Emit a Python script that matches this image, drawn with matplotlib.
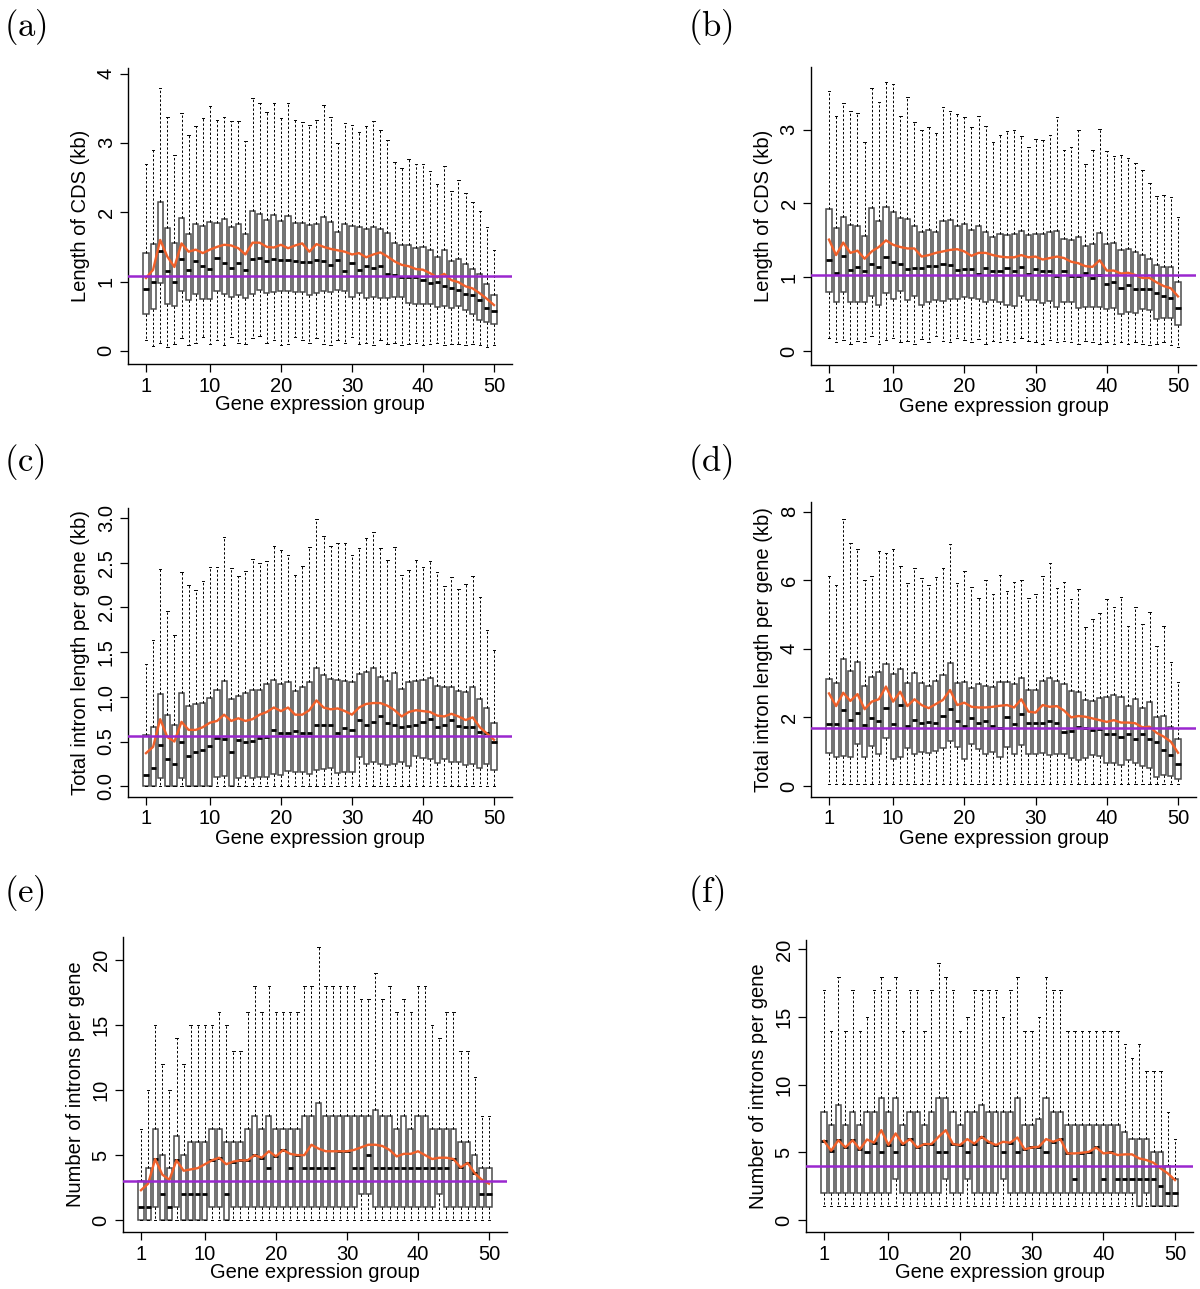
import matplotlib
matplotlib.use('Agg')
import matplotlib.pyplot as plt
import numpy as np

plt.rcParams['font.family'] = ['Liberation Sans', 'DejaVu Sans']
plt.rcParams['mathtext.fontset'] = 'cm'

groups = np.arange(1, 51)
xticks = [1, 10, 20, 30, 40, 50]

# (a) CDS length, kb
a_lo = [0.15, 0.07, 0.12, 0.05, 0.10, 0.18, 0.08, 0.12, 0.20, 0.10, 0.15, 0.08, 0.20, 0.12, 0.10, 0.18, 0.22, 0.12, 0.15, 0.08,
        0.10, 0.20, 0.15, 0.12, 0.18, 0.10, 0.08, 0.15, 0.12, 0.20, 0.10, 0.12, 0.08, 0.15, 0.10, 0.12, 0.08, 0.10, 0.12, 0.08,
        0.10, 0.12, 0.08, 0.10, 0.10, 0.08, 0.10, 0.08, 0.06, 0.08]
a_q1 = [0.53, 0.60, 0.98, 0.67, 0.65, 0.86, 0.74, 0.82, 0.75, 0.75, 0.87, 0.82, 0.78, 0.81, 0.76, 0.82, 0.88, 0.83, 0.85, 0.86,
        0.87, 0.85, 0.85, 0.81, 0.83, 0.86, 0.85, 0.88, 0.87, 0.78, 0.83, 0.76, 0.77, 0.76, 0.76, 0.77, 0.77, 0.69, 0.67, 0.68,
        0.67, 0.63, 0.64, 0.62, 0.64, 0.59, 0.53, 0.45, 0.42, 0.39]
a_med = [0.89, 1.00, 1.44, 1.15, 1.00, 1.32, 1.16, 1.29, 1.22, 1.18, 1.34, 1.26, 1.19, 1.27, 1.16, 1.32, 1.34, 1.30, 1.32, 1.31,
         1.31, 1.30, 1.28, 1.28, 1.31, 1.30, 1.24, 1.31, 1.15, 1.27, 1.16, 1.22, 1.19, 1.23, 1.11, 1.10, 1.06, 1.07, 1.07, 1.02,
         0.98, 1.00, 0.93, 0.90, 0.88, 0.82, 0.80, 0.74, 0.62, 0.57]
a_q3 = [1.41, 1.54, 2.15, 1.77, 1.55, 1.91, 1.69, 1.83, 1.80, 1.86, 1.84, 1.90, 1.79, 1.83, 1.68, 2.01, 1.97, 1.89, 1.96, 1.87,
        1.94, 1.85, 1.84, 1.81, 1.83, 1.93, 1.86, 1.72, 1.83, 1.80, 1.79, 1.76, 1.78, 1.76, 1.70, 1.55, 1.52, 1.53, 1.49, 1.50,
        1.45, 1.35, 1.45, 1.30, 1.32, 1.25, 1.18, 1.11, 0.96, 0.81]
a_hi = [2.70, 2.90, 3.79, 3.37, 2.83, 3.43, 3.12, 3.24, 3.36, 3.53, 3.33, 3.37, 3.31, 3.32, 3.02, 3.65, 3.57, 3.44, 3.58, 3.36,
        3.58, 3.33, 3.30, 3.26, 3.33, 3.54, 3.37, 3.00, 3.28, 3.26, 3.16, 3.25, 3.32, 3.19, 3.04, 2.73, 2.64, 2.77, 2.70, 2.70,
        2.60, 2.40, 2.67, 2.31, 2.46, 2.27, 2.15, 2.01, 1.78, 1.45]
a_mean = [1.05, 1.17, 1.60, 1.36, 1.21, 1.55, 1.43, 1.46, 1.41, 1.46, 1.50, 1.53, 1.52, 1.48, 1.39, 1.56, 1.56, 1.50, 1.49, 1.53,
          1.48, 1.52, 1.55, 1.43, 1.54, 1.50, 1.47, 1.45, 1.43, 1.39, 1.41, 1.35, 1.39, 1.42, 1.36, 1.29, 1.24, 1.22, 1.18, 1.17,
          1.12, 1.06, 1.11, 1.02, 0.99, 0.93, 0.90, 0.83, 0.75, 0.66]
a_ref = 1.08

# (b) CDS length, kb
b_lo = [0.18, 0.12, 0.15, 0.10, 0.14, 0.12, 0.20, 0.10, 0.15, 0.18, 0.12, 0.14, 0.10, 0.16, 0.12, 0.20, 0.14, 0.12, 0.18, 0.15,
        0.12, 0.16, 0.10, 0.14, 0.12, 0.15, 0.12, 0.18, 0.14, 0.12, 0.10, 0.15, 0.12, 0.14, 0.12, 0.10, 0.14, 0.12, 0.10, 0.12,
        0.10, 0.12, 0.10, 0.12, 0.10, 0.08, 0.10, 0.12, 0.08, 0.06]
b_q1 = [0.80, 0.67, 0.80, 0.66, 0.67, 0.67, 0.74, 0.63, 0.78, 0.70, 0.81, 0.69, 0.74, 0.63, 0.67, 0.69, 0.68, 0.70, 0.70, 0.73,
        0.72, 0.70, 0.66, 0.69, 0.67, 0.62, 0.61, 0.74, 0.69, 0.69, 0.65, 0.68, 0.60, 0.66, 0.67, 0.58, 0.60, 0.60, 0.60, 0.57,
        0.58, 0.50, 0.53, 0.52, 0.57, 0.55, 0.44, 0.45, 0.45, 0.35]
b_med = [1.23, 1.06, 1.29, 1.10, 1.14, 1.09, 1.18, 1.14, 1.28, 1.21, 1.18, 1.11, 1.13, 1.12, 1.15, 1.15, 1.18, 1.17, 1.10, 1.11,
         1.11, 1.05, 1.12, 1.09, 1.08, 1.12, 1.09, 1.14, 1.05, 1.11, 1.08, 1.09, 1.02, 1.09, 1.01, 1.02, 1.06, 0.99, 1.03, 0.91,
         0.94, 0.86, 0.89, 0.84, 0.84, 0.84, 0.78, 0.74, 0.72, 0.58]
b_q3 = [1.92, 1.67, 1.82, 1.71, 1.70, 1.56, 1.94, 1.76, 1.95, 1.88, 1.80, 1.79, 1.69, 1.61, 1.64, 1.61, 1.76, 1.77, 1.70, 1.72,
        1.64, 1.70, 1.61, 1.55, 1.59, 1.57, 1.59, 1.63, 1.57, 1.58, 1.59, 1.61, 1.63, 1.52, 1.51, 1.54, 1.42, 1.45, 1.60, 1.45,
        1.46, 1.37, 1.38, 1.34, 1.30, 1.25, 1.16, 1.14, 1.14, 0.94]
b_hi = [3.53, 3.18, 3.36, 3.26, 3.22, 2.83, 3.56, 3.37, 3.65, 3.62, 3.18, 3.44, 3.10, 3.00, 3.03, 2.95, 3.31, 3.26, 3.21, 3.17,
        3.04, 3.18, 3.05, 2.84, 2.93, 2.98, 3.00, 2.92, 2.76, 2.87, 2.86, 2.93, 3.17, 2.73, 2.76, 3.00, 2.53, 2.73, 3.01, 2.71,
        2.65, 2.66, 2.61, 2.55, 2.46, 2.28, 2.10, 2.12, 2.09, 1.81]
b_mean = [1.51, 1.30, 1.47, 1.33, 1.36, 1.25, 1.35, 1.41, 1.50, 1.44, 1.41, 1.39, 1.39, 1.28, 1.30, 1.33, 1.35, 1.37, 1.38, 1.35,
          1.29, 1.33, 1.33, 1.30, 1.28, 1.27, 1.27, 1.30, 1.27, 1.28, 1.24, 1.26, 1.28, 1.26, 1.21, 1.19, 1.15, 1.14, 1.23, 1.09,
          1.09, 1.05, 1.06, 1.03, 0.99, 0.99, 0.93, 0.88, 0.85, 0.74]
b_ref = 1.03

# (c) total intron length per gene, kb
c_lo = [0.0] * 50
c_q1 = [0, 0, 0.09, 0, 0, 0.09, 0, 0, 0, 0, 0.10, 0.12, 0, 0.09, 0.12, 0.09, 0.10, 0.10, 0.14, 0.13,
        0.17, 0.16, 0.16, 0.14, 0.18, 0.19, 0.20, 0.15, 0.16, 0.16, 0.33, 0.25, 0.27, 0.25, 0.24, 0.25, 0.27, 0.23, 0.34, 0.32,
        0.30, 0.26, 0.31, 0.27, 0.27, 0.24, 0.25, 0.20, 0.25, 0.18]
c_med = [0.13, 0.20, 0.46, 0.30, 0.25, 0.50, 0.34, 0.38, 0.40, 0.45, 0.54, 0.53, 0.38, 0.52, 0.49, 0.51, 0.54, 0.55, 0.63, 0.60,
         0.60, 0.62, 0.59, 0.59, 0.68, 0.69, 0.68, 0.60, 0.65, 0.63, 0.74, 0.68, 0.72, 0.78, 0.71, 0.68, 0.66, 0.67, 0.68, 0.72,
         0.75, 0.66, 0.69, 0.74, 0.67, 0.66, 0.66, 0.61, 0.60, 0.49]
c_q3 = [0.57, 0.66, 1.03, 0.80, 0.68, 1.04, 0.90, 0.92, 0.93, 0.99, 1.08, 1.18, 0.98, 1.01, 1.04, 1.08, 1.08, 1.14, 1.19, 1.14,
        1.17, 1.06, 1.11, 1.17, 1.32, 1.24, 1.20, 1.19, 1.18, 1.16, 1.26, 1.28, 1.32, 1.22, 1.18, 1.27, 1.09, 1.16, 1.18, 1.19,
        1.21, 1.12, 1.11, 1.11, 1.06, 1.05, 1.11, 0.97, 0.87, 0.71]
c_hi = [1.37, 1.63, 2.43, 1.96, 1.69, 2.39, 2.25, 2.19, 2.29, 2.45, 2.45, 2.79, 2.44, 2.35, 2.41, 2.54, 2.49, 2.52, 2.68, 2.64,
        2.58, 2.36, 2.46, 2.67, 2.99, 2.80, 2.68, 2.72, 2.72, 2.59, 2.66, 2.78, 2.84, 2.66, 2.53, 2.67, 2.36, 2.42, 2.53, 2.45,
        2.52, 2.39, 2.24, 2.34, 2.20, 2.26, 2.35, 2.11, 1.75, 1.52]
c_mean = [0.37, 0.44, 0.75, 0.55, 0.50, 0.72, 0.63, 0.63, 0.66, 0.71, 0.73, 0.80, 0.73, 0.76, 0.73, 0.75, 0.80, 0.83, 0.88, 0.84,
          0.88, 0.80, 0.80, 0.85, 0.96, 0.88, 0.86, 0.87, 0.84, 0.80, 0.88, 0.92, 0.93, 0.93, 0.90, 0.85, 0.78, 0.83, 0.85, 0.84,
          0.83, 0.79, 0.78, 0.81, 0.78, 0.74, 0.77, 0.66, 0.59, 0.52]
c_ref = 0.56

# (d) total intron length per gene, kb
d_lo = [0.05] * 50
d_q1 = [0.95, 0.85, 0.87, 0.85, 1.22, 0.84, 1.17, 0.92, 1.39, 0.78, 0.85, 1.10, 0.93, 0.98, 0.95, 1.02, 1.10, 1.32, 1.15, 0.79,
        1.22, 1.07, 0.93, 1.00, 0.85, 1.15, 0.93, 1.20, 0.93, 0.93, 0.97, 0.90, 0.92, 0.92, 0.81, 0.76, 0.81, 0.90, 0.87, 0.66,
        0.68, 0.61, 0.76, 0.66, 0.59, 0.52, 0.27, 0.32, 0.30, 0.20]
d_med = [1.81, 1.81, 2.22, 1.92, 2.14, 1.78, 1.97, 1.90, 2.27, 1.81, 2.36, 1.76, 1.92, 1.83, 1.86, 1.83, 2.04, 2.24, 1.90, 1.75,
         1.99, 1.85, 1.90, 1.76, 1.70, 2.00, 1.81, 2.09, 1.83, 1.83, 1.85, 1.90, 1.85, 1.58, 1.60, 1.73, 1.70, 1.63, 1.65, 1.51,
         1.52, 1.42, 1.51, 1.37, 1.51, 1.36, 1.27, 1.05, 0.90, 0.63]
d_q3 = [3.11, 2.99, 3.69, 3.35, 3.62, 2.92, 3.17, 3.31, 3.55, 3.26, 3.41, 2.99, 3.30, 2.99, 2.92, 3.06, 3.24, 3.59, 2.99, 3.04,
        2.85, 2.96, 2.92, 2.90, 3.04, 3.04, 2.96, 3.14, 2.80, 2.80, 3.06, 3.14, 3.07, 2.96, 2.77, 2.73, 2.51, 2.48, 2.57, 2.59,
        2.65, 2.59, 2.34, 2.53, 2.27, 2.46, 2.00, 2.04, 1.73, 1.36]
d_hi = [6.13, 5.86, 7.78, 7.08, 6.90, 6.01, 6.13, 6.86, 6.78, 6.90, 6.42, 5.91, 6.36, 6.06, 5.86, 6.10, 6.35, 7.05, 5.91, 6.28,
        5.79, 5.47, 6.01, 5.61, 6.15, 5.69, 5.96, 6.01, 5.47, 5.60, 6.12, 6.49, 5.76, 5.96, 5.44, 5.73, 4.63, 4.86, 5.03, 5.44,
        5.23, 5.52, 4.66, 5.21, 4.72, 5.06, 4.08, 4.66, 3.62, 3.02]
d_mean = [2.70, 2.33, 2.72, 2.48, 2.68, 2.24, 2.46, 2.53, 2.90, 2.46, 2.75, 2.33, 2.53, 2.36, 2.27, 2.39, 2.51, 2.80, 2.36, 2.43,
          2.31, 2.29, 2.29, 2.31, 2.34, 2.36, 2.29, 2.53, 2.17, 2.14, 2.36, 2.31, 2.33, 2.20, 2.00, 2.04, 2.02, 1.97, 1.92, 1.87,
          1.92, 1.85, 1.85, 1.83, 1.71, 1.73, 1.55, 1.44, 1.29, 0.97]
d_ref = 1.68

# (e) number of introns per gene (medians hidden under the mean line read as the mean)
e_lo = [0] * 50
e_q1 = [0, 0, 1, 0, 0, 1, 0, 0, 0, 0, 1, 1, 0, 1, 1, 1, 1, 1, 1, 1, 1, 1, 1, 1, 1,
        1, 1, 1, 1, 1, 1, 2, 2, 1, 1, 1, 1, 1, 1, 1, 1, 1, 2, 1, 1, 1, 1, 1, 1, 1]
e_med = [1, 1, 4.7, 2, 1, 4.6, 2, 2, 2, 2, 4.6, 4.8, 2, 4.5, 4.6, 4.6, 5.0, 4.8, 4, 4.9, 5.4, 4, 5.0, 4, 4,
         4, 4, 4, 5.3, 5.3, 4, 4, 5, 4, 4, 4, 4, 4, 4, 4, 4, 4, 4, 4, 4.7, 4.05, 4.4, 3.6, 2, 2]
e_q3 = [3, 4, 7, 5, 4, 6.5, 5, 6, 6, 6, 7, 7, 6, 6, 6, 7, 8, 7, 8, 7, 7, 7, 7, 8, 8,
        9, 8, 8, 8, 8, 8, 8, 8, 8.5, 8, 8, 7, 8, 7, 8, 8, 7, 7, 7, 7, 6, 6, 5, 4, 4]
e_hi = [7, 10, 15, 12, 10, 14, 12, 15, 15, 15, 15, 16, 15, 13, 13, 16, 18, 16, 18, 16, 16, 16, 16, 18, 18,
        21, 18, 18, 18, 18, 18, 17, 17, 19, 17, 18, 16, 17, 16, 18, 18, 15, 14, 16, 16, 13, 13, 11, 8, 8]
e_mean = [2.3, 2.8, 4.7, 3.5, 3.1, 4.6, 3.8, 3.9, 4.0, 4.3, 4.6, 4.8, 4.3, 4.5, 4.6, 4.6, 5.0, 4.8, 5.3, 4.9,
          5.4, 5.1, 5.0, 5.0, 5.8, 5.5, 5.3, 5.3, 5.3, 5.3, 5.4, 5.6, 5.8, 5.8, 5.7, 5.4, 4.9, 5.1, 5.1, 5.3,
          5.0, 4.7, 4.8, 4.8, 4.7, 4.05, 4.4, 3.6, 3.1, 2.8]
e_ref = 3.0

# (f) number of introns per gene (medians hidden under the mean line read as the mean)
f_lo = [1] * 50
f_q1 = [2, 2, 2, 2, 2, 2, 2, 2, 2, 2, 3, 2, 2, 2, 2, 2, 2, 3, 2, 2, 3, 2, 2, 2, 2,
        3, 2, 2, 2, 2, 2, 2, 2, 2, 2, 2, 2, 2, 2, 2, 2, 2, 2, 2, 1, 2, 1, 1, 1, 1]
f_med = [5.85, 5.12, 5.90, 5.36, 5.90, 5.22, 5, 5.71, 5, 5.54, 5, 5.61, 5.98, 5.36, 5.61, 5.61, 5, 5, 5.61, 5.54,
         5, 5.64, 6.15, 5.78, 5.54, 5, 5.71, 5, 5.22, 5.36, 5.41, 5, 5.78, 5.98, 4.92, 3, 4.97, 5.04, 5.36, 3,
         4.99, 3, 3, 3, 3, 3, 3, 2.5, 2, 2]
f_q3 = [8, 7, 8.5, 7, 8, 7, 8, 8, 9, 8, 9, 7, 8, 8, 7, 8, 9, 9, 8, 7, 8, 8, 8.5, 8, 8,
        8, 8, 9, 7, 7, 7.5, 9, 8, 8, 7, 7, 7, 7, 7, 7, 7, 7, 6.5, 6, 6, 6, 5, 5, 4, 3]
f_hi = [17, 14, 18, 14, 17, 14, 15, 17, 18, 17, 18, 14, 17, 17, 14, 17, 19, 18, 17, 14, 15, 17, 17, 17, 17,
        15, 17, 18, 14, 14, 15, 18, 17, 17, 14, 14, 14, 14, 14, 14, 14, 14, 13, 12, 13, 11, 11, 11, 8, 6]
f_mean = [5.85, 5.12, 5.90, 5.36, 5.90, 5.22, 5.95, 5.71, 6.64, 5.54, 6.40, 5.61, 5.98, 5.36, 5.61, 5.61, 6.15, 6.64, 5.61, 5.54,
          5.98, 5.64, 6.15, 5.78, 5.54, 5.78, 5.71, 6.10, 5.22, 5.36, 5.41, 5.98, 5.78, 5.98, 4.92, 4.92, 4.97, 5.04, 5.36, 4.92,
          4.99, 4.80, 4.85, 4.85, 4.55, 4.43, 4.23, 3.81, 3.44, 2.95]
f_ref = 4.0

W, H = 1200, 1289
fig = plt.figure(figsize=(12, 12.89), dpi=100)


def make_axes(x1, x50, top, bottom):
    # x1 / x50: pixel positions of groups 1 and 50; axis spans -1.5 .. 52.5
    step = (x50 - x1) / 49.0
    left = x1 - 2.5 * step
    right = x50 + 2.5 * step
    return fig.add_axes([left / W, 1 - bottom / H, (right - left) / W, (bottom - top) / H])


def draw_panel(ax, lo, q1, med, q3, hi, mean, ref, ylim, yticks, yticklabels, ylabel):
    stats = [dict(whislo=w0, q1=b0, med=m, q3=b1, whishi=w1)
             for w0, b0, m, b1, w1 in zip(lo, q1, med, q3, hi)]
    ax.bxp(stats, positions=groups, widths=0.72, showfliers=False, patch_artist=True,
           boxprops=dict(facecolor='white', edgecolor='#4a4a4a', linewidth=1.1),
           whiskerprops=dict(color='black', linewidth=0.7, linestyle=(0, (2.5, 2))),
           capprops=dict(color='black', linewidth=0.7),
           medianprops=dict(color='black', linewidth=2.0, solid_capstyle='butt'),
           manage_ticks=False)
    ax.plot(groups, mean, color='#f0602a', linewidth=1.7, zorder=4)
    ax.axhline(ref, color='#9a27cf', linewidth=1.8, zorder=5)
    ax.set_xlim(-1.5, 52.5)
    ax.set_ylim(*ylim)
    ax.set_xticks(xticks)
    ax.set_yticks(yticks)
    ax.set_yticklabels(yticklabels, rotation=90, va='center')
    for s in ['top', 'right']:
        ax.spines[s].set_visible(False)
    for s in ['left', 'bottom']:
        ax.spines[s].set_linewidth(1.0)
    ax.tick_params(direction='out', length=6, width=0.9, labelsize=14.5, pad=3)
    ax.set_xlabel('Gene expression group', fontsize=14.5, labelpad=0)
    ax.set_ylabel(ylabel, fontsize=14.5, labelpad=5)


cds = 'Length of CDS (kb)'
intron_len = 'Total intron length per gene (kb)'
intron_num = 'Number of introns per gene'

ax = make_axes(146, 494, 68, 364)
draw_panel(ax, a_lo, a_q1, a_med, a_q3, a_hi, a_mean, a_ref, (-0.19, 4.08),
           [0, 1, 2, 3, 4], ['0', '1', '2', '3', '4'], cds)

ax = make_axes(829, 1178, 67, 365)
draw_panel(ax, b_lo, b_q1, b_med, b_q3, b_hi, b_mean, b_ref, (-0.19, 3.85),
           [0, 1, 2, 3], ['0', '1', '2', '3'], cds)

ax = make_axes(146, 494, 508, 797)
draw_panel(ax, c_lo, c_q1, c_med, c_q3, c_hi, c_mean, c_ref, (-0.12, 3.11),
           [0, 0.5, 1.0, 1.5, 2.0, 2.5, 3.0], ['0.0', '0.5', '1.0', '1.5', '2.0', '2.5', '3.0'], intron_len)

ax = make_axes(829, 1178, 502, 797)
draw_panel(ax, d_lo, d_q1, d_med, d_q3, d_hi, d_mean, d_ref, (-0.32, 8.28),
           [0, 2, 4, 6, 8], ['0', '2', '4', '6', '8'], intron_len)

ax = make_axes(141, 489, 937, 1232)
draw_panel(ax, e_lo, e_q1, e_med, e_q3, e_hi, e_mean, e_ref, (-0.92, 21.8),
           [0, 5, 10, 15, 20], ['0', '5', '10', '15', '20'], intron_num)

ax = make_axes(824, 1175, 940, 1232)
draw_panel(ax, f_lo, f_q1, f_med, f_q3, f_hi, f_mean, f_ref, (-0.89, 20.7),
           [0, 5, 10, 15, 20], ['0', '5', '10', '15', '20'], intron_num)

letters = [('(a)', 4, 27), ('(b)', 688, 27), ('(c)', 4, 462), ('(d)', 688, 462), ('(e)', 4, 893), ('(f)', 688, 893)]
for txt, px, py in letters:
    fig.text(px / W, 1 - py / H, r'$\mathrm{' + txt + '}$', fontsize=25, ha='left', va='center')

fig.savefig('out.png', dpi=100)
